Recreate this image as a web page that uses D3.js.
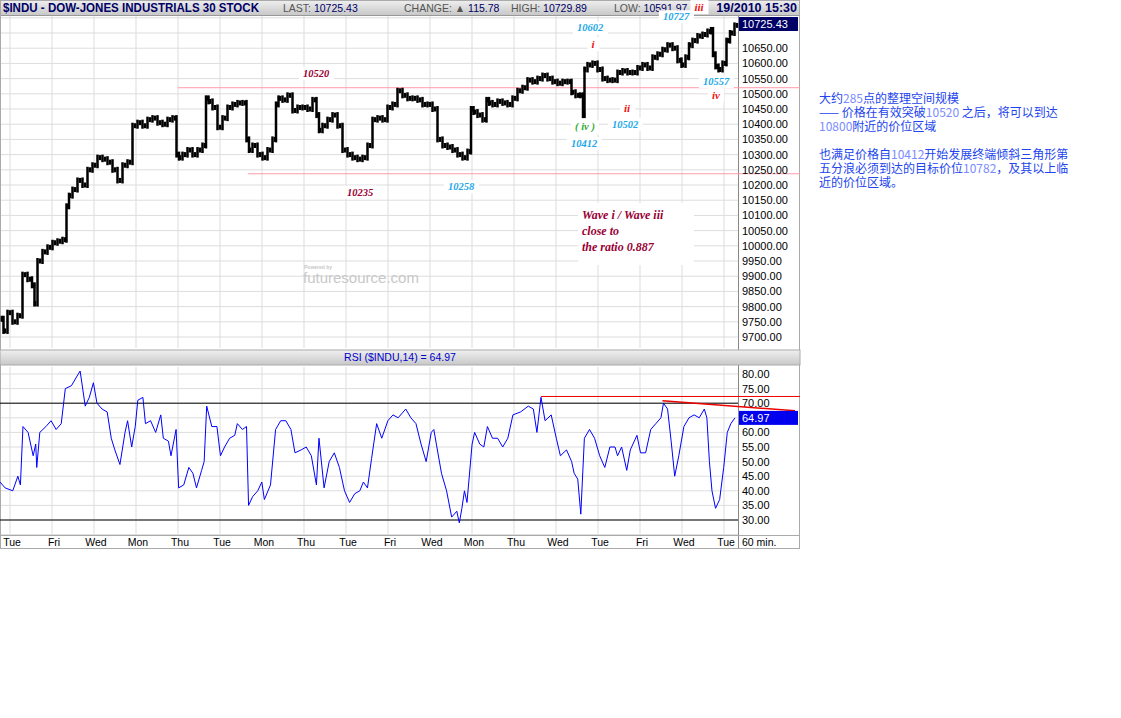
<!DOCTYPE html>
<html><head><meta charset="utf-8">
<script src="https://cdn.jsdelivr.net/npm/d3@7"></script>
<style>body{margin:0;background:#fff}svg{display:block}</style>
</head><body>
<svg id="chart" width="1121" height="718"></svg>
<script>
// price closes: [bar, close] (bar = 60-min bar position)
var priceBars = [[0.4,9760],[1,9720],[2,9780],[3,9750],[4,9770],[5,9905],[6,9890],[6.8,9870],[7,9810],[8,9950],[9,9980],[10,9995],[11,10010],[12,10015],[13,10020],
  [13.6,10130],[14,10165],[15,10185],[16,10215],[17,10200],[18,10250],[19,10265],[20,10290],[21,10285],[22,10275],[23,10250],[24,10215],[25,10265],[26,10275],
  [27,10395],[28,10405],[29,10395],[30,10415],[31,10420],[32,10405],[33,10400],[34,10415],[35,10420],[35.6,10300],[36,10290],[37,10300],[38,10315],[39,10300],
  [40,10315],[41,10330],[41.4,10485],[42,10475],[43,10455],[44,10390],[45,10420],[46,10455],[47,10465],[48,10470],[49,10470],[49.6,10350],[50,10315],[51,10330],
  [52,10300],[53,10290],[54,10315],[55,10350],[55.4,10465],[56,10485],[57,10480],[58,10495],[59,10445],[60,10455],[61,10455],[62,10450],[63,10480],[63.6,10430],
  [64,10380],[65,10395],[66,10415],[67,10430],[68,10395],[69,10315],[70,10300],[71,10290],[72,10285],[73,10290],[74,10330],[75,10415],[76,10420],[77,10415],
  [78,10455],[79,10465],[80,10510],[81,10495],[82,10485],[83,10485],[84,10480],[85,10465],[86,10465],[87,10450],[88,10350],[89,10330],[90,10325],[91,10315],
  [92,10300],[93,10290],[94,10310],[94.4,10450],[95,10440],[96,10430],[97,10415],[97.6,10480],[98,10470],[99,10465],[100,10475],[101,10470],[102,10465],
  [103,10485],[104,10510],[105,10520],[106,10545],[107,10540],[108,10550],[109,10560],[110,10550],[111,10540],[112,10535],[113,10540],[114,10540],[114.6,10505],
  [115.6,10495],[116.4,10495],[116.8,10430],[117,10580],[118,10595],[119,10600],[120,10580],[121,10550],[122,10545],[123,10545],[124,10570],[125,10575],[126,10570],
  [127,10570],[128,10585],[129,10595],[130,10585],[131,10620],[132,10630],[133,10645],[134,10660],[135,10650],[136,10610],[136.6,10595],[137.6,10620],[138,10660],
  [139,10675],[140,10690],[141,10695],[142,10705],[142.4,10710],[142.8,10630],[143.4,10590],[144,10580],[145,10600],[145.6,10675],[146.4,10700],[147.4,10725]];

// RSI(14): [pos, value]
var rsiPts = [[0,43],[10,41],[25,40],[35,45],[40,42],[45,62],[55,60],[65,52],[70,56],[72,48],[78,60],[90,62],[100,64],[110,61],[120,63],[128,75],[140,76],
  [150,79],[157,81],[167,69],[175,72],[183,77],[190,70],[200,68],[210,67],[218,58],[225,54],[235,49],[245,60],[250,64],[258,55],[265,62],[270,71],[280,72],
  [285,63],[295,64],[305,60],[315,66],[320,58],[330,57],[335,52],[345,61],[350,41],[360,42],[370,48],[378,46],[385,41],[395,47],[400,50],[405,69],[415,62],
  [425,62],[432,52],[440,55],[450,58],[460,59],[465,63],[475,61],[483,62],[487,35],[495,38],[505,40],[513,43],[518,37],[530,42],[540,61],[550,64],[560,64],
  [570,61],[578,53],[590,54],[600,55],[610,52],[620,42],[625,58],[635,41],[645,50],[655,53],[665,48],[675,40],[685,36],[695,39],[705,40],[712,43],[720,41],
  [728,51],[738,63],[748,58],[760,64],[770,66],[780,65],[795,68],[805,65],[815,63],[825,56],[835,50],[845,60],[850,61],[855,56],[865,46],[870,43],[875,40],
  [885,31],[895,33],[900,29],[905,34],[910,40],[915,36],[925,56],[930,60],[940,56],[948,55],[955,62],[965,58],[975,58],[985,55],[995,58],[1005,66],[1020,67],
  [1035,69],[1045,68],[1052,60],[1060,72],[1068,64],[1080,66],[1090,58],[1098,52],[1110,54],[1120,50],[1125,46],[1132,44],[1138,32],[1145,58],[1155,61],
  [1165,58],[1175,52],[1185,48],[1195,55],[1205,55],[1210,52],[1218,55],[1228,47],[1235,54],[1248,59],[1255,53],[1265,53],[1275,61],[1285,63],[1295,65],
  [1300,70],[1308,68],[1315,57],[1322,45],[1330,52],[1340,62],[1350,65],[1360,66],[1370,65],[1380,68],[1385,65],[1390,50],[1395,40],[1402,34],[1410,37],
  [1418,48],[1425,60],[1432,63],[1440,65]];

var dayLabels = ['Tue','Fri','Wed','Mon','Thu','Tue','Mon','Thu','Tue','Fri','Wed','Mon','Thu','Wed','Tue','Fri','Wed','Tue'];
var priceTicks = d3.range(9700, 10701, 50);
var rsiTicks = d3.range(30, 81, 5);
var resistance = 10520, support = 10237;

// annotations: [bar, price, text, kind]
var notes = [[63.2,10555,'10520','dr'],[72,10165,'10235','dr'],[92.2,10182,'10258','bl'],
  [117,10380,'( iv )','gr'],[116.8,10325,'10412','bl'],[118,10705,'10602','bl'],[118.6,10650,'i','rd'],
  [125.4,10440,'ii','rd'],[125,10388,'10502','bl'],[135.2,10742,'10727','bl'],[139.8,10772,'iii','rd'],
  [143.2,10528,'10557','bl'],[143.2,10482,'iv','rd']];
var waveText = ['Wave i / Wave iii', 'close to', 'the ratio 0.887'];

var svg = d3.select('#chart');
var L = 0, R = 738, FR = 800;
var x = d3.scaleLinear().domain([0, 147.6]).range([L, R]);
var xr = d3.scaleLinear().domain([0, 1446]).range([L, R]);
var y = d3.scaleLinear().domain([9700, 10700]).range([337, 33]);
var yr = d3.scaleLinear().domain([30, 80]).range([520, 374]);

// header
var grad = svg.append('defs').append('linearGradient').attr('id', 'hg').attr('x1', 0).attr('x2', 0).attr('y1', 0).attr('y2', 1);
grad.append('stop').attr('offset', 0).attr('stop-color', '#f0f0f0');
grad.append('stop').attr('offset', 1).attr('stop-color', '#c8c8c8');
svg.append('rect').attr('x', 0).attr('y', 0).attr('width', FR).attr('height', 15).attr('fill', 'url(#hg)');
svg.append('line').attr('x1', 0).attr('x2', FR).attr('y1', 15.5).attr('y2', 15.5).attr('stroke', '#999');
svg.append('text').attr('x', 3).attr('y', 12).attr('font-family', 'Arial').attr('font-weight', 'bold').attr('font-size', 12.5)
    .attr('textLength', 256).attr('lengthAdjust', 'spacingAndGlyphs').attr('fill', '#000066').text('$INDU - DOW-JONES INDUSTRIALS 30 STOCK');
[['LAST: ', '10725.43', 283], ['CHANGE: \u25B2 ', '115.78', 404], ['HIGH: ', '10729.89', 511], ['LOW: ', '10591.97', 614]].forEach(function (h) {
    var t = svg.append('text').attr('x', h[2]).attr('y', 12).attr('font-family', 'Arial').attr('font-size', 10.5).attr('fill', '#555');
    t.append('tspan').text(h[0]);
    t.append('tspan').attr('fill', '#000066').text(h[1]);
});
svg.append('text').attr('x', 797).attr('y', 12).attr('text-anchor', 'end').attr('font-family', 'Arial').attr('font-weight', 'bold').attr('font-size', 12.5).attr('fill', '#000066').text('19/2010 15:30');

// grid
var gx = d3.range(dayLabels.length).map(function (i) { return 10 + i * 42; });
function grid(top, bottom, ys) {
    var g = svg.append('g').attr('stroke', '#dddddd');
    gx.forEach(function (v) { g.append('line').attr('x1', v).attr('x2', v).attr('y1', top).attr('y2', bottom); });
    ys.forEach(function (v) { g.append('line').attr('x1', L).attr('x2', R).attr('y1', v).attr('y2', v); });
}
grid(16, 348, priceTicks.map(y).concat([y(10750)]));
grid(367, 535, rsiTicks.map(yr).concat([yr(25)]));

// frames
svg.append('line').attr('x1', R + 0.5).attr('x2', R + 0.5).attr('y1', 16).attr('y2', 548).attr('stroke', '#888');
svg.append('rect').attr('x', 0.5).attr('y', 0.5).attr('width', FR - 1).attr('height', 548).attr('fill', 'none').attr('stroke', '#aaa');
svg.append('rect').attr('x', 0).attr('y', 350).attr('width', FR).attr('height', 15).attr('fill', 'url(#hg)').attr('stroke', '#aaa');
svg.append('text').attr('x', 400).attr('y', 361).attr('text-anchor', 'middle').attr('font-family', 'Arial').attr('font-size', 10.5).attr('fill', '#0000cc').text('RSI ($INDU,14) = 64.97');
svg.append('line').attr('x1', 0).attr('x2', FR).attr('y1', 535.5).attr('y2', 535.5).attr('stroke', '#aaa');

// watermark
var wm = svg.append('g').attr('font-family', 'Arial').attr('fill', '#c8c8c8');
wm.append('text').attr('x', 304).attr('y', 269).attr('font-size', 5).attr('font-weight', 'bold').text('Powered by');
wm.append('text').attr('x', 303).attr('y', 283).attr('font-size', 15).text('futuresource.com');

// support / resistance
svg.append('line').attr('x1', x(35.6)).attr('x2', FR).attr('y1', y(resistance)).attr('y2', y(resistance)).attr('stroke', '#ff9aa8');
svg.append('line').attr('x1', x(49.6)).attr('x2', FR).attr('y1', y(support)).attr('y2', y(support)).attr('stroke', '#ff9aa8');

// price bars
var bars = svg.append('g').attr('stroke', '#000').attr('stroke-width', 2.5);
priceBars.forEach(function (d, i) {
    var prev = i ? priceBars[i - 1][1] : d[1];
    var x0 = i ? x(priceBars[i - 1][0]) : x(d[0]);
    var y1 = y(Math.max(prev, d[1])) - 3, y2 = y(Math.min(prev, d[1])) + 3;
    var xm = (x0 + x(d[0])) / 2;
    bars.append('line').attr('x1', xm).attr('x2', xm).attr('y1', y1).attr('y2', y2);
    bars.append('line').attr('x1', x(d[0])).attr('x2', x(d[0])).attr('y1', y(d[1]) - 2.5).attr('y2', y(d[1]) + 2.5);
});

// annotations
var colors = { dr: '#990033', bl: '#22a8e8', gr: '#33aa33', rd: '#ee1111' };
notes.forEach(function (n) {
    var g = svg.append('g');
    var t = g.append('text').attr('x', x(n[0])).attr('y', y(n[1])).attr('text-anchor', 'middle')
        .attr('font-family', 'Liberation Serif, Times New Roman').attr('font-style', 'italic').attr('font-weight', 'bold')
        .attr('font-size', n[3] == 'rd' ? 11 : 10.5).attr('fill', colors[n[3]]).text(n[2]);
    var b = t.node().getBBox();
    g.insert('rect', 'text').attr('x', b.x - 4).attr('y', b.y - 1).attr('width', b.width + 8).attr('height', b.height + 2).attr('fill', '#fff');
});
var wb = svg.append('g');
wb.append('rect').attr('x', 578).attr('y', 203).attr('width', 116).attr('height', 62).attr('fill', '#fff');
waveText.forEach(function (s, i) {
    wb.append('text').attr('x', 582).attr('y', 219 + i * 16).attr('font-family', 'Liberation Serif, Times New Roman').attr('font-style', 'italic').attr('font-weight', 'bold').attr('font-size', 12).attr('fill', '#990033').text(s);
});

// price axis
var ax = svg.append('g').attr('font-family', 'Arial').attr('font-size', 11).attr('fill', '#000');
priceTicks.filter(function (v) { return v < 10700; }).forEach(function (v) {
    ax.append('text').attr('x', 742).attr('y', y(v) + 4).text(v.toFixed(2));
});
svg.append('rect').attr('x', 739).attr('y', 17).attr('width', 59).attr('height', 14).attr('fill', '#000066');
svg.append('text').attr('x', 742).attr('y', 28).attr('font-family', 'Arial').attr('font-size', 11).attr('fill', '#fff').text('10725.43');

// RSI
svg.append('g').attr('stroke', '#000').selectAll('line').data([70, 30]).join('line')
    .attr('x1', L).attr('x2', R).attr('y1', function (d) { return yr(d); }).attr('y2', function (d) { return yr(d); });
svg.append('path').datum(rsiPts).attr('fill', 'none').attr('stroke', '#0000ff')
    .attr('d', d3.line().x(function (d) { return xr(d[0]); }).y(function (d) { return yr(d[1]); }));
svg.append('line').attr('x1', xr(1060)).attr('x2', FR).attr('y1', yr(72.3)).attr('y2', yr(72.3)).attr('stroke', '#ee0000');
svg.append('line').attr('x1', xr(1298)).attr('x2', 795).attr('y1', yr(70.8)).attr('y2', yr(67.4)).attr('stroke', '#ee0000').attr('stroke-width', 1.5);
rsiTicks.filter(function (v) { return v != 65; }).forEach(function (v) {
    ax.append('text').attr('x', 742).attr('y', yr(v) + 4).text(v.toFixed(2));
});
svg.append('rect').attr('x', 739).attr('y', yr(64.97) - 7).attr('width', 59).attr('height', 14).attr('fill', '#0000ee');
svg.append('text').attr('x', 742).attr('y', yr(64.97) + 4).attr('font-family', 'Arial').attr('font-size', 11).attr('fill', '#fff').text('64.97');

// day labels
dayLabels.forEach(function (d, i) {
    ax.append('text').attr('x', gx[i] + 2).attr('y', 546).attr('text-anchor', 'middle').attr('font-size', 10.5).text(d);
});
ax.append('text').attr('x', 742).attr('y', 546).attr('font-size', 10.5).text('60 min.');

// comment text
var para = [
    [['大约', 0], ['285', 1], ['点的整理空间规模', 0]],
    [['—— 价格在有效突破', 0], ['10520', 1], [' 之后，将可以到达', 0]],
    [['10800', 1], ['附近的价位区域', 0]],
    [],
    [['也满足价格自', 0], ['10412', 1], ['开始发展终端倾斜三角形第', 0]],
    [['五分浪必须到达的目标价位', 0], ['10782', 1], ['，及其以上临', 0]],
    [['近的价位区域。', 0]]];
para.forEach(function (line, i) {
    var t = svg.append('text').attr('x', 819).attr('y', 103 + i * 14).attr('font-family', 'Noto Sans CJK SC').attr('font-size', 12).attr('fill', '#2244ee');
    line.forEach(function (p) { t.append('tspan').attr('fill', p[1] ? '#7a8cff' : '#2244ee').text(p[0]); });
});
</script>
</body></html>
